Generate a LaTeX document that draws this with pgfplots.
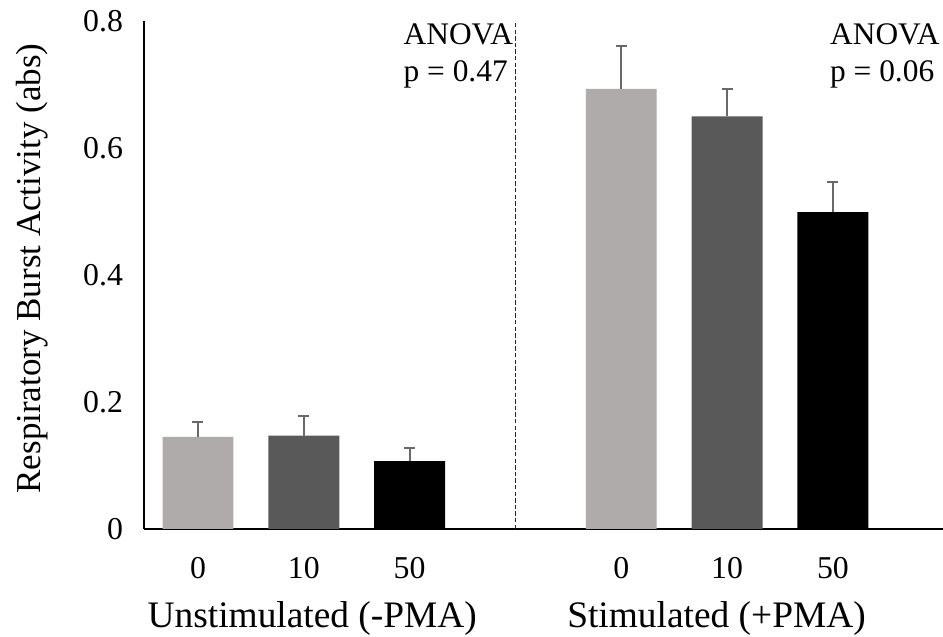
\documentclass[border=0pt]{standalone}
\usepackage{pgfplots}
\pgfplotsset{compat=1.18}
\usepackage{fontspec}
\setmainfont{Liberation Serif}
\definecolor{c0}{RGB}{175,171,171}
\definecolor{c10}{RGB}{89,89,89}
\definecolor{c50}{RGB}{0,0,0}
\definecolor{errc}{RGB}{105,105,105}
\begin{document}
\begin{tikzpicture}
\useasboundingbox (0,0) rectangle (471.5pt,318.5pt);
\begin{axis}[
  at={(72pt,54pt)}, anchor=south west,
  scale only axis, width=399.5pt, height=254pt,
  xmin=-0.51, xmax=7.04, ymin=0, ymax=0.8,
  axis x line*=bottom, axis y line*=left,
  axis line style={-, line width=0.75pt, black},
  ytick={0,0.2,0.4,0.6,0.8},
  yticklabels={0,0.2,0.4,0.6,0.8},
  xtick={0,1,2,4,5,6}, xticklabels={0,10,50,0,10,50},
  major tick length=0pt,
  tick label style={font=\fontsize{15.9}{19}\selectfont},
  yticklabel style={xshift=-7pt},
  xticklabel style={yshift=-10.5pt},
  ylabel={Respiratory Burst Activity (abs)},
  ylabel style={at={(axis description cs:-0.140,0.513)}, anchor=center, font=\fontsize{17.5}{21}\selectfont},
  ybar, bar width=0.67, bar shift=0pt,
  error bars/y dir=plus, error bars/y explicit,
  error bars/error bar style={errc, line width=1pt},
  error bars/error mark options={rotate=90, errc, mark size=2.75pt, line width=1pt},
  clip=false,
]
\addplot[fill=c0, draw=none] table[y error=e] {
x y e
0 0.145 0.023
4 0.693 0.067
};
\addplot[fill=c10, draw=none] table[y error=e] {
x y e
1 0.147 0.031
5 0.650 0.043
};
\addplot[fill=c50, draw=none] table[y error=e] {
x y e
2 0.107 0.020
6 0.499 0.047
};
\addplot[sharp plot, no marks, draw=black!85, line width=0.65pt, dash pattern=on 2.2pt off 1.1pt, forget plot, error bars/y dir=none] coordinates {(3,0) (3,0.8)};
\node[anchor=base west, inner sep=0pt, font=\fontsize{15.7}{19}\selectfont] at (axis cs:1.94,0.763) {ANOVA};
\node[anchor=base west, inner sep=0pt, font=\fontsize{15.7}{19}\selectfont] at (axis cs:1.94,0.705) {p = 0.47};
\node[anchor=base west, inner sep=0pt, font=\fontsize{15.7}{19}\selectfont] at (axis cs:5.97,0.763) {ANOVA};
\node[anchor=base west, inner sep=0pt, font=\fontsize{15.7}{19}\selectfont] at (axis cs:5.97,0.705) {p = 0.06};
\node[anchor=base, inner sep=0pt, font=\fontsize{18.7}{22}\selectfont] at ([yshift=-49pt]axis cs:1.08,0) {Unstimulated (-PMA)};
\node[anchor=base, inner sep=0pt, font=\fontsize{18.7}{22}\selectfont] at ([yshift=-49pt]axis cs:4.9,0) {Stimulated (+PMA)};
\end{axis}
\end{tikzpicture}
\end{document}
